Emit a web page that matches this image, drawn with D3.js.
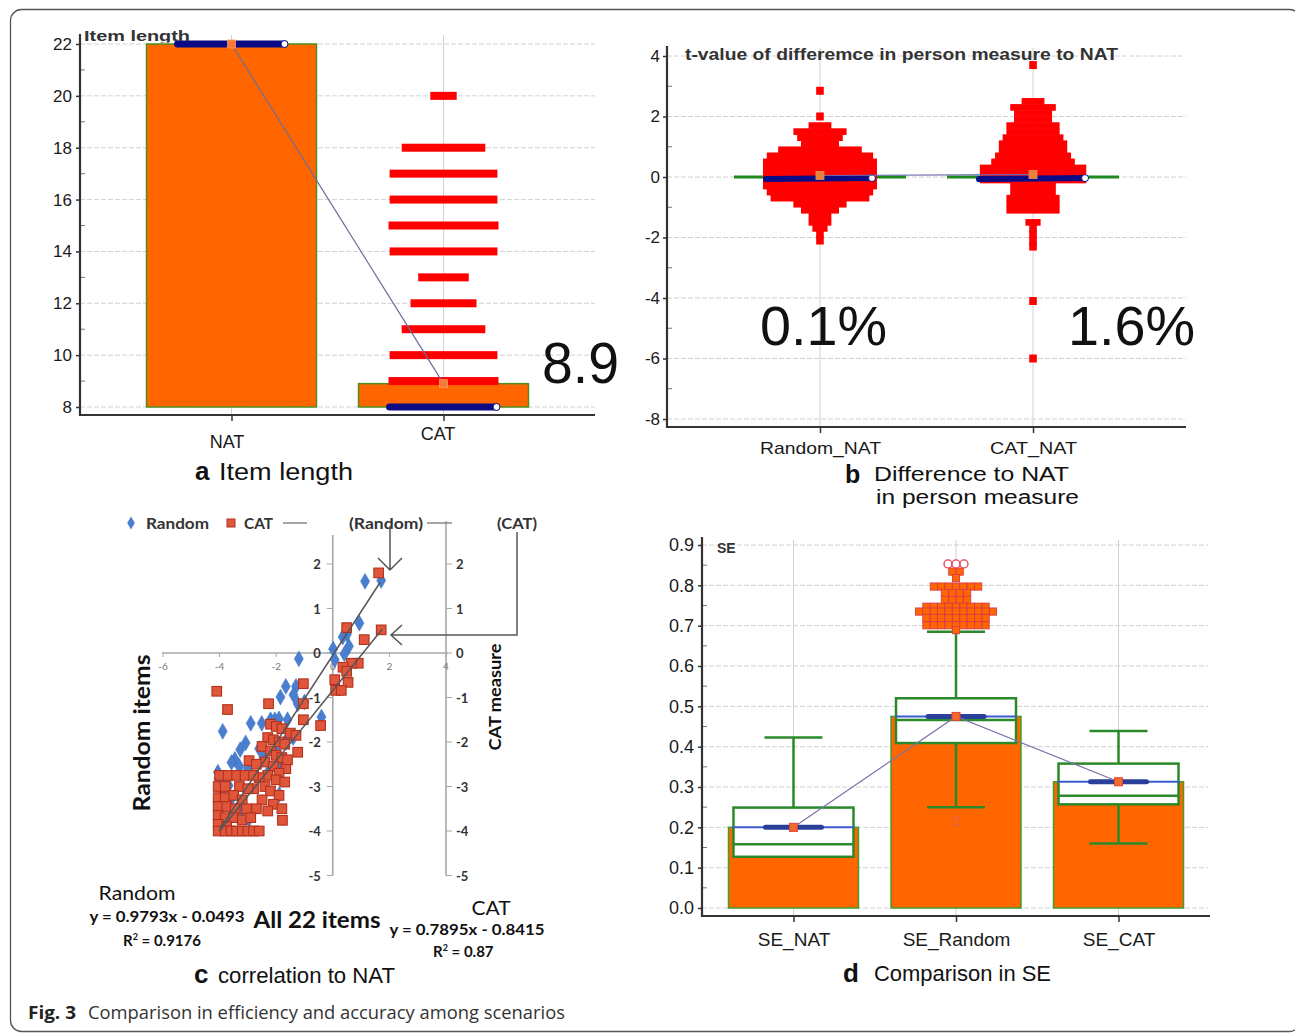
<!DOCTYPE html>
<html><head><meta charset="utf-8">
<script src="https://cdn.jsdelivr.net/npm/d3@7"></script>
<style>body{margin:0;background:#fff}svg{display:block}</style>
</head><body>
<svg id="c" width="1295" height="1033"></svg>
<script>
// ================= DATA =================
// (a) item length
const itemCats = ["NAT", "CAT"];
const itemMeans = [22, 8.9];
const itemMedians = [22, 8];
const itemBase = 8;
const itemTicks = [8, 10, 12, 14, 16, 18, 20, 22];
// CAT item-length distribution: [items, relative frequency]
const catLengthDist = [[20,12],[18,38],[17,49],[16,49],[15,50],[14,49],[13,23],[12,30],[11,38],[10,49],[9,50]];
const itemMeanLabel = "8.9";

// (b) t-value differences
const diffCats = ["Random_NAT", "CAT_NAT"];
const diffMeans = [0.05, 0.08];
const diffMedians = [-0.07, -0.07];
const diffTicks = [-8, -6, -4, -2, 0, 2, 4];
const diffPercent = ["0.1%", "1.6%"];
// rows of the dot plot: [t-value, number of persons in row]
const randomDiffDist = [[2.85,1],[2.0,1],[1.7,3],[1.5,7],[1.3,6],[1.1,5],[0.9,11],[0.7,14],[0.5,15],[0.3,15],[0.1,15],[-0.1,15],[-0.3,15],[-0.5,14],[-0.7,13],[-0.9,7],[-1.1,5],[-1.3,3],[-1.5,3],[-1.7,2],[-1.9,1],[-2.1,1]];
const catDiffDist = [[3.7,1],[2.5,3],[2.3,6],[2.1,5],[1.9,5],[1.7,7],[1.5,7],[1.3,8],[1.1,9],[0.9,9],[0.7,10],[0.5,11],[0.3,14],[0.1,14],[-0.1,14],[-0.3,6],[-0.5,6],[-0.7,7],[-0.9,7],[-1.1,7],[-1.5,2],[-1.7,1],[-1.9,1],[-2.1,1],[-2.3,1],[-4.1,1],[-6.0,1]];

// (c) correlation to NAT: [NAT measure, Random/CAT measure]
const randomPoints = [[1.14,1.61],[1.71,1.63],[0.94,0.67],[0.5,0.42],[0.35,0.36],[0.57,0.15],[0.41,-0.02],[0.01,0.09],[0.07,-0.15],[-1.2,-0.13],[-1.66,-0.75],[-1.3,-0.75],[-1.39,-0.94],[-1.85,-0.99],[-1.24,-1.14],[-1.0,-1.1],[-0.4,-1.44],[-2.9,-1.58],[-2.51,-1.58],[-2.2,-1.5],[-2.05,-1.5],[-1.9,-1.48],[-1.6,-1.5],[-3.89,-1.76],[-3.08,-2.02],[-3.27,-2.17],[-2.6,-2.15],[-2.45,-2.35],[-3.46,-2.39],[-3.58,-2.46],[-3.3,-2.55],[-4.06,-2.68],[-4.04,-2.83],[-3.68,-2.98],[-1.89,-3.18],[-2.96,-3.73],[-3.2,-3.54],[-1.66,-1.97],[-1.4,-1.9],[-2.0,-2.2],[-3.0,-2.6],[-3.6,-3.3],[-2.3,-2.7],[-1.9,-2.5],[-3.9,-3.1],[-3.75,-2.85]];
const catPoints = [[1.62,1.80],[1.71,0.52],[1.11,0.30],[0.49,0.57],[0.9,-0.23],[0.66,-0.23],[0.36,-0.32],[0.49,-0.41],[0.07,-0.6],[0.54,-0.66],[0.1,-0.84],[0.3,-0.84],[-1.04,-0.69],[-1.04,-1.14],[-2.27,-1.14],[-4.1,-0.86],[-3.72,-1.27],[-0.43,-1.63],[-1.04,-1.5],[-1.24,-2.23],[-2.96,-2.42],[-1.66,-2.6],[-1.78,-3.76],
 [-2.2,-1.6],[-2.0,-1.65],[-1.8,-1.7],[-1.5,-1.8],[-1.3,-1.85],[-2.3,-1.9],[-2.1,-1.95],[-1.9,-2.0],[-1.7,-2.05],[-2.5,-2.1],[-2.2,-2.2],[-2.0,-2.3],[-1.8,-2.35],[-1.6,-2.4],[-2.4,-2.45],[-2.7,-2.5],[-2.1,-2.55],[-1.9,-2.7],[-2.3,-2.75],[-2.6,-2.8],[-2.0,-2.85],[-1.7,-2.9],[-2.4,-3.0],[-2.8,-3.05],[-2.2,-3.1],[-1.9,-3.2],[-2.5,-3.3],[-2.1,-3.4],[-2.7,-3.5],[-1.8,-3.5],[-2.3,-3.55],
 [-4.0,-2.75],[-3.7,-2.75],[-3.4,-2.75],[-3.1,-2.75],[-2.8,-2.75],[-4.05,-3.0],[-3.8,-3.0],[-3.3,-3.0],[-3.0,-3.05],[-4.05,-3.25],[-3.8,-3.25],[-3.5,-3.2],[-3.2,-3.3],[-4.05,-3.45],[-3.75,-3.45],[-3.45,-3.5],[-3.05,-3.5],[-4.05,-3.65],[-3.8,-3.7],[-3.5,-3.7],[-3.2,-3.75],[-2.9,-3.7],[-4.05,-3.85],[-3.75,-3.9],[-4.05,-4.0],[-3.8,-4.0],[-3.6,-4.0],[-3.4,-4.0],[-3.2,-4.0],[-3.0,-4.0],[-2.8,-4.0],[-2.6,-4.0]];
const randomFit = {slope: 0.9793, intercept: -0.0493, r2: 0.9176, from: -4.0, to: 1.68};
const catFit = {slope: 0.7895, intercept: -0.8415, r2: 0.87, from: -4.0, to: 1.75};
const corrXTicks = [-6, -4, -2, 0, 2, 4];
const corrYTicks = [2, 1, 0, -1, -2, -3, -4, -5];

// (d) SE comparison
const seCats = ["SE_NAT", "SE_Random", "SE_CAT"];
const seMeans = [0.2, 0.475, 0.313];
const seQ1 = [0.127, 0.409, 0.257];
const seMedian = [0.158, 0.466, 0.278];
const seQ3 = [0.249, 0.52, 0.358];
const seLow = [0.127, 0.25, 0.16];
const seHigh = [0.423, 0.685, 0.439];
const seTicks = [0, 0.1, 0.2, 0.3, 0.4, 0.5, 0.6, 0.7, 0.8, 0.9];
// SE_Random outliers: [SE, count in row]
const seRandomOutlierRows = [[0.834,2],[0.818,1],[0.797,7],[0.781,4],[0.764,4],[0.747,9],[0.735,11],[0.719,9],[0.701,9],[0.689,1]];
const seRandomFarOut = [0.853, 0.853, 0.853];
const seRandomLowOut = [0.215];

// ================= DRAW =================
const svg = d3.select("#c");
const SANS = "'Liberation Sans', Arial, sans-serif";
const CAL = "Lato, 'Open Sans', sans-serif";
const OS = "'Open Sans', 'Noto Sans', sans-serif";
const ORANGE = "#ff6600", BARLINE = "#4f8f1f", GRID = "#d2d2d2", NAVY = "#0b0b85", BOXG = "#2a8a2a";
const plain = d => String(d);

function txt(g, s, x, y, o = {}) {
  const t = g.append("text").attr("x", x).attr("y", y).text(s)
    .attr("font-family", o.family || SANS).attr("font-size", o.size || 16)
    .attr("font-weight", o.weight || "normal").attr("fill", o.fill || "#222")
    .attr("text-anchor", o.anchor || "start");
  if (o.w) t.attr("textLength", o.w).attr("lengthAdjust", "spacingAndGlyphs");
  if (o.rotate) t.attr("transform", `rotate(${o.rotate},${x},${y})`);
  return t;
}
function line(g, x1, y1, x2, y2, stroke, w, dash) {
  const l = g.append("line").attr("x1", x1).attr("y1", y1).attr("x2", x2).attr("y2", y2)
    .attr("stroke", stroke).attr("stroke-width", w);
  if (dash) l.attr("stroke-dasharray", dash);
  return l;
}

// outer frame
svg.append("rect").attr("x", 10.5).attr("y", 9.5).attr("width", 1290).attr("height", 1022)
  .attr("rx", 11).attr("fill", "none").attr("stroke", "#555").attr("stroke-width", 1.3);

// ---------- panel a ----------
{
  const g = svg.append("g");
  const x = d3.scalePoint().domain(itemCats).range([80, 595]).padding(0.7146);
  const y = d3.scaleLinear().domain([8, 22]).range([407, 44]);
  g.selectAll(".gh").data(itemTicks).join("line").attr("x1", 80).attr("x2", 595)
    .attr("y1", d => y(d)).attr("y2", d => y(d)).attr("stroke", GRID).attr("stroke-dasharray", "5,2");
  g.selectAll(".gv").data(itemCats).join("line").attr("x1", d => x(d)).attr("x2", d => x(d))
    .attr("y1", 35).attr("y2", 415).attr("stroke", GRID);
  // bars
  g.selectAll(".bar").data(itemCats).join("rect")
    .attr("x", d => x(d) - 85).attr("width", 170)
    .attr("y", (d, i) => y(itemMeans[i])).attr("height", (d, i) => y(itemBase) - y(itemMeans[i]))
    .attr("fill", ORANGE).attr("stroke", BARLINE).attr("stroke-width", 1.5);
  // CAT distribution
  const wS = d3.scaleLinear().domain([0, 50]).range([0, 110]);
  g.selectAll(".dist").data(catLengthDist).join("rect")
    .attr("x", d => x("CAT") - wS(d[1]) / 2).attr("width", d => wS(d[1]))
    .attr("y", d => y(d[0]) - 4).attr("height", 8).attr("fill", "#ff0000");
  // median lines
  itemCats.forEach((c, i) => {
    line(g, x(c) - 54, y(itemMedians[i]), x(c) + 53, y(itemMedians[i]), NAVY, 7).attr("stroke-linecap", "round");
    g.append("circle").attr("cx", x(c) + 53).attr("cy", y(itemMedians[i])).attr("r", 3.5)
      .attr("fill", "#fff").attr("stroke", NAVY).attr("stroke-width", 1);
  });
  // mean connector
  g.append("path").attr("d", d3.line()(itemCats.map((c, i) => [x(c), y(itemMeans[i])])))
    .attr("fill", "none").attr("stroke", "#6c6c9c").attr("stroke-width", 1.2);
  g.selectAll(".mean").data(itemCats).join("rect")
    .attr("x", d => x(d) - 4).attr("y", (d, i) => y(itemMeans[i]) - 4).attr("width", 8).attr("height", 8)
    .attr("fill", "#f47a3a").attr("stroke", "#ff9a5a").attr("stroke-width", 0.8);
  // axes
  const ya = g.append("g").attr("transform", "translate(80,0)")
    .call(d3.axisLeft(y).tickValues(itemTicks).tickFormat(plain).tickSize(4).tickPadding(4));
  ya.select(".domain").remove();
  ya.selectAll("text").attr("font-family", SANS).attr("font-size", 17).attr("fill", "#1a1a1a");
  ya.selectAll("line").attr("stroke", "#333").attr("stroke-width", 1.5);
  g.selectAll(".minor").data(d3.range(9, 22, 2)).join("line").attr("x1", 80).attr("x2", 85)
    .attr("y1", d => y(d)).attr("y2", d => y(d)).attr("stroke", "#777");
  line(g, 80, 34, 80, 416, "#333", 2.2);
  line(g, 79, 415, 595, 415, "#333", 2.2);
  const xa = g.append("g").attr("transform", "translate(0,415)")
    .call(d3.axisBottom(x).tickSize(6).tickPadding(14));
  xa.select(".domain").remove();
  xa.selectAll("line").attr("stroke", "#333").attr("stroke-width", 1.5);
  xa.selectAll("text").attr("font-family", SANS).attr("font-size", 18).attr("fill", "#1a1a1a")
    .attr("dy", d => d === "NAT" ? "0.72em" : "0.3em").attr("dx", d => d === "NAT" ? -5 : -6);
  // labels
  g.append("clipPath").attr("id", "clipA").append("rect").attr("x", 80).attr("y", 20).attr("width", 200).attr("height", 22.5);
  txt(g, "Item length", 84, 41, {size: 15, weight: "bold", fill: "#333", w: 106}).attr("clip-path", "url(#clipA)");
  txt(g, itemMeanLabel, 542, 383, {size: 57, fill: "#111", w: 77});
  txt(g, "a", 195, 480, {size: 26, weight: "bold", fill: "#111"});
  txt(g, "Item length", 219, 480, {size: 23, fill: "#111", w: 134});
}

// ---------- panel b ----------
{
  const g = svg.append("g");
  const x = d3.scalePoint().domain(diffCats).range([667, 1186]).padding(0.718);
  const y = d3.scaleLinear().domain([-8, 4]).range([419, 56]);
  g.selectAll(".gh").data(diffTicks).join("line").attr("x1", 667).attr("x2", 1186)
    .attr("y1", d => y(d)).attr("y2", d => y(d)).attr("stroke", GRID).attr("stroke-dasharray", "5,2");
  g.selectAll(".gv").data(diffCats).join("line").attr("x1", d => x(d)).attr("x2", d => x(d))
    .attr("y1", 48).attr("y2", 427).attr("stroke", GRID);
  // zero (green) lines
  diffCats.forEach(c => line(g, x(c) - 86, y(0), x(c) + 86, y(0), "#1d8a1d", 3));
  // dot plots
  const cell = 7.6, rowH = y(0) - y(0.22);
  [randomDiffDist, catDiffDist].forEach((dist, i) => {
    const cx = x(diffCats[i]);
    g.selectAll(null).data(dist).join("rect")
      .attr("x", d => cx - d[1] * cell / 2).attr("width", d => d[1] * cell)
      .attr("y", d => y(d[0]) - (d[1] === 1 ? 4 : rowH / 2)).attr("height", d => d[1] === 1 ? 8 : rowH)
      .attr("fill", "#ff0000");
  });
  // medians
  diffCats.forEach((c, i) => {
    line(g, x(c) - 54, y(diffMedians[i]), x(c) + 52, y(diffMedians[i]) - 1, NAVY, 6).attr("stroke-linecap", "round");
    g.append("circle").attr("cx", x(c) + 52).attr("cy", y(diffMedians[i]) - 1).attr("r", 3.5)
      .attr("fill", "#fff").attr("stroke", NAVY).attr("stroke-width", 1);
  });
  g.append("path").attr("d", d3.line()(diffCats.map((c, i) => [x(c), y(diffMeans[i])])))
    .attr("fill", "none").attr("stroke", "#6c6cb0").attr("stroke-width", 1.2);
  g.selectAll(".mean").data(diffCats).join("rect")
    .attr("x", d => x(d) - 4).attr("y", (d, i) => y(diffMeans[i]) - 4).attr("width", 8).attr("height", 8)
    .attr("fill", "#e8823a").attr("stroke", "#f09050").attr("stroke-width", 0.8);
  // axes
  const ya = g.append("g").attr("transform", "translate(667,0)")
    .call(d3.axisLeft(y).tickValues(diffTicks).tickFormat(plain).tickSize(4).tickPadding(3));
  ya.select(".domain").remove();
  ya.selectAll("text").attr("font-family", SANS).attr("font-size", 17).attr("fill", "#1a1a1a");
  ya.selectAll("line").attr("stroke", "#333").attr("stroke-width", 1.5);
  g.selectAll(".minor").data(d3.range(-7, 4, 2)).join("line").attr("x1", 667).attr("x2", 672)
    .attr("y1", d => y(d)).attr("y2", d => y(d)).attr("stroke", "#777");
  line(g, 667, 46, 667, 428, "#333", 2.2);
  line(g, 666, 427, 1186, 427, "#333", 2.2);
  const xa = g.append("g").attr("transform", "translate(0,427)")
    .call(d3.axisBottom(x).tickSize(6).tickPadding(9));
  xa.select(".domain").remove();
  xa.selectAll("line").attr("stroke", "#333").attr("stroke-width", 1.5);
  xa.selectAll("text").attr("font-family", SANS).attr("font-size", 17).attr("fill", "#1a1a1a")
    .attr("textLength", d => d === "Random_NAT" ? 121 : 87).attr("lengthAdjust", "spacingAndGlyphs");
  txt(g, "t-value of differemce in person measure to NAT", 685, 60, {size: 16, weight: "bold", fill: "#333", w: 433});
  txt(g, diffPercent[0], 760, 345, {size: 56, fill: "#111", w: 127});
  txt(g, diffPercent[1], 1068, 345, {size: 56, fill: "#111", w: 127});
  txt(g, "b", 845, 483, {size: 25, weight: "bold", fill: "#111"});
  txt(g, "Difference to NAT", 874, 481, {size: 20, fill: "#111", w: 195});
  txt(g, "in person measure", 876, 504, {size: 20, fill: "#111", w: 203});
}

// ---------- panel c ----------
{
  const g = svg.append("g");
  const x = d3.scaleLinear().domain([-6, 4]).range([163, 446]);
  const y = d3.scaleLinear().domain([-5, 0]).range([875.5, 653]);
  const AX = "#a8a8a8";
  // axes
  line(g, 162, y(0), 448, y(0), AX, 1.6);
  line(g, x(0), 535, x(0), y(-5), AX, 1.6);
  line(g, 446, 521, 446, y(-5), AX, 1.6);
  g.selectAll(".xt").data(corrXTicks).join("line").attr("x1", d => x(d)).attr("x2", d => x(d))
    .attr("y1", y(0)).attr("y2", y(0) + 4).attr("stroke", AX);
  g.selectAll(".xl").data(corrXTicks).join("text").attr("x", d => x(d)).attr("y", y(0) + 17)
    .attr("text-anchor", "middle").attr("font-family", CAL).attr("font-size", 10).attr("fill", "#777")
    .text(plain);
  g.selectAll(".ylt").data(corrYTicks).join("line").attr("x1", x(0) - 6).attr("x2", x(0))
    .attr("y1", d => y(d)).attr("y2", d => y(d)).attr("stroke", AX);
  g.selectAll(".yrt").data(corrYTicks).join("line").attr("x1", 446).attr("x2", 452)
    .attr("y1", d => y(d)).attr("y2", d => y(d)).attr("stroke", AX);
  g.selectAll(".yll").data(corrYTicks).join("text").attr("x", x(0) - 12).attr("y", d => y(d) + 5)
    .attr("text-anchor", "end").attr("font-family", CAL).attr("font-weight", "bold").attr("font-size", 13)
    .attr("fill", "#333").text(plain);
  g.selectAll(".yrl").data(corrYTicks).join("text").attr("x", 456).attr("y", d => y(d) + 5)
    .attr("text-anchor", "start").attr("font-family", CAL).attr("font-weight", "bold").attr("font-size", 13)
    .attr("fill", "#333").text(plain);
  // points
  const diamond = d3.symbol().type(d3.symbolDiamond).size(72);
  g.selectAll(".rp").data(randomPoints).join("path").attr("d", diamond)
    .attr("transform", d => `translate(${x(d[0])},${y(d[1])})`).attr("fill", "#4a7fcf").attr("stroke", "#3a6fc0").attr("stroke-width", 0.5);
  g.selectAll(".cp").data(catPoints).join("rect")
    .attr("x", d => x(d[0]) - 4.8).attr("y", d => y(d[1]) - 4.8).attr("width", 9.6).attr("height", 9.6)
    .attr("fill", "#e0563b").attr("stroke", "#b3301c").attr("stroke-width", 1.1);
  // fits
  [randomFit, catFit].forEach(f => {
    line(g, x(f.from), y(f.slope * f.from + f.intercept), x(f.to), y(f.slope * f.to + f.intercept), "#555", 1.5);
  });
  // legend
  g.append("path").attr("d", d3.symbol().type(d3.symbolDiamond).size(50)).attr("transform", "translate(131,523)").attr("fill", "#4a7fcf");
  txt(g, "Random", 146, 529, {family: CAL, size: 16, weight: "bold", fill: "#333", w: 63});
  g.append("rect").attr("x", 227).attr("y", 519).attr("width", 8).attr("height", 8).attr("fill", "#e0563b").attr("stroke", "#b3301c");
  txt(g, "CAT", 244, 529, {family: CAL, size: 16, weight: "bold", fill: "#333", w: 29});
  line(g, 283, 523, 307, 523, "#888", 1.5);
  txt(g, "(Random)", 349, 529, {family: CAL, size: 16, weight: "bold", fill: "#333", w: 74});
  line(g, 427, 523, 452, 523, "#888", 1.5);
  txt(g, "(CAT)", 497, 529, {family: CAL, size: 16, weight: "bold", fill: "#333", w: 40});
  // arrows
  g.append("path").attr("d", "M390,526V570M378,558L390,570L402,558").attr("fill", "none").attr("stroke", "#555").attr("stroke-width", 1.5);
  g.append("path").attr("d", "M517,532V635H391M402,625L391,635L402,645").attr("fill", "none").attr("stroke", "#555").attr("stroke-width", 1.5);
  // axis titles
  txt(g, "Random items", 150, 733, {family: CAL, size: 23, weight: "bold", fill: "#111", anchor: "middle", rotate: -90, w: 157});
  txt(g, "CAT measure", 501, 697, {family: CAL, size: 17, weight: "bold", fill: "#111", anchor: "middle", rotate: -90, w: 107});
  // fit texts
  const fmt = f => `y = ${f.slope}x - ${Math.abs(f.intercept)}`;
  txt(g, "Random", 137, 900, {family: CAL, size: 19, fill: "#111", anchor: "middle", w: 77});
  txt(g, fmt(randomFit), 167, 922, {family: CAL, size: 15, weight: "bold", fill: "#111", anchor: "middle", w: 155});
  const r1 = txt(g, "R", 123, 946, {family: CAL, size: 15, weight: "bold", fill: "#111"});
  r1.append("tspan").attr("dy", -6).attr("font-size", 9).text("2");
  r1.append("tspan").attr("dy", 6).text(` = ${randomFit.r2}`);
  txt(g, "All 22 items", 317, 928, {family: CAL, size: 23, weight: "bold", fill: "#111", anchor: "middle", w: 127});
  txt(g, "CAT", 491, 915, {family: CAL, size: 19, fill: "#111", anchor: "middle", w: 39});
  txt(g, fmt(catFit), 467, 935, {family: CAL, size: 15, weight: "bold", fill: "#111", anchor: "middle", w: 155});
  const r2 = txt(g, "R", 433, 957, {family: CAL, size: 15, weight: "bold", fill: "#111"});
  r2.append("tspan").attr("dy", -6).attr("font-size", 9).text("2");
  r2.append("tspan").attr("dy", 6).text(` = ${catFit.r2}`);
  txt(g, "c", 194, 983, {size: 26, weight: "bold", fill: "#111"});
  txt(g, "correlation to NAT", 218, 983, {size: 22, fill: "#111", w: 177});
}

// ---------- panel d ----------
{
  const g = svg.append("g");
  const x = d3.scalePoint().domain(seCats).range([702, 1210]).padding(0.563);
  const y = d3.scaleLinear().domain([0, 0.9]).range([908, 545]);
  g.selectAll(".gh").data(seTicks).join("line").attr("x1", 702).attr("x2", 1208)
    .attr("y1", d => y(d)).attr("y2", d => y(d)).attr("stroke", GRID).attr("stroke-dasharray", "5,2");
  g.selectAll(".gv").data(seCats).join("line").attr("x1", d => x(d)).attr("x2", d => x(d))
    .attr("y1", 540).attr("y2", 916).attr("stroke", GRID);
  // bars
  g.selectAll(".bar").data(seCats).join("rect")
    .attr("x", d => x(d) - 65).attr("width", 130)
    .attr("y", (d, i) => y(seMeans[i])).attr("height", (d, i) => y(0) - y(seMeans[i]))
    .attr("fill", ORANGE).attr("stroke", "#3fa02a").attr("stroke-width", 1.5);
  // whiskers
  seCats.forEach((c, i) => {
    const cx = x(c);
    line(g, cx, y(seQ3[i]), cx, y(seHigh[i]), BOXG, 2.5);
    line(g, cx - 29, y(seHigh[i]), cx + 29, y(seHigh[i]), BOXG, 2.5);
    if (seLow[i] < seQ1[i]) {
      line(g, cx, y(seQ1[i]), cx, y(seLow[i]), BOXG, 2.5);
      line(g, cx - 29, y(seLow[i]), cx + 29, y(seLow[i]), BOXG, 2.5);
    }
  });
  // boxes
  g.selectAll(".box").data(seCats).join("rect")
    .attr("x", d => x(d) - 60).attr("width", 120)
    .attr("y", (d, i) => y(seQ3[i])).attr("height", (d, i) => y(seQ1[i]) - y(seQ3[i]))
    .attr("fill", "#fff").attr("stroke", BOXG).attr("stroke-width", 2.5);
  seCats.forEach((c, i) => {
    const cx = x(c);
    line(g, cx - 60, y(seMedian[i]), cx + 60, y(seMedian[i]), BOXG, 2.5);
    line(g, cx - 61, y(seMeans[i]), cx + 61, y(seMeans[i]), "#3b5bd0", 2);
    line(g, cx - 28, y(seMeans[i]), cx + 28, y(seMeans[i]), "#2a3f9a", 5).attr("stroke-linecap", "round");
  });
  // mean connector
  g.append("path").attr("d", d3.line()(seCats.map((c, i) => [x(c), y(seMeans[i])])))
    .attr("fill", "none").attr("stroke", "#7a72a8").attr("stroke-width", 1.2);
  g.selectAll(".mean").data(seCats).join("rect")
    .attr("x", d => x(d) - 4).attr("y", (d, i) => y(seMeans[i]) - 4).attr("width", 8).attr("height", 8)
    .attr("fill", "#f06a2a").attr("stroke", "#e0403a").attr("stroke-width", 1);
  // outliers SE_Random
  const cxR = x("SE_Random"), cs = 7.4;
  const outs = [];
  seRandomOutlierRows.forEach(([v, n]) => { for (let k = 0; k < n; k++) outs.push([cxR + (k - (n - 1) / 2) * cs, v]); });
  g.selectAll(".out").data(outs).join("rect")
    .attr("x", d => d[0] - 3.6).attr("y", d => y(d[1]) - 3.6).attr("width", 7.2).attr("height", 7.2)
    .attr("fill", ORANGE).attr("stroke", "#d83a4a").attr("stroke-width", 0.9);
  g.selectAll(".far").data(seRandomFarOut).join("circle")
    .attr("cx", (d, i) => cxR + (i - 1) * 8).attr("cy", d => y(d)).attr("r", 4)
    .attr("fill", "#fff").attr("stroke", "#e04050").attr("stroke-width", 1.3);
  g.selectAll(".low").data(seRandomLowOut).join("rect")
    .attr("x", cxR - 3.5).attr("y", d => y(d) - 4).attr("width", 7).attr("height", 8)
    .attr("fill", "none").attr("stroke", "#e0604a").attr("stroke-width", 1);
  // axes
  const ya = g.append("g").attr("transform", "translate(702,0)")
    .call(d3.axisLeft(y).tickValues(seTicks).tickFormat(d3.format(".1f")).tickSize(4).tickPadding(4));
  ya.select(".domain").remove();
  ya.selectAll("text").attr("font-family", SANS).attr("font-size", 18).attr("fill", "#1a1a1a");
  ya.selectAll("line").attr("stroke", "#333").attr("stroke-width", 1.5);
  g.selectAll(".minor").data(d3.range(0.05, 0.9, 0.1)).join("line").attr("x1", 702).attr("x2", 707)
    .attr("y1", d => y(d)).attr("y2", d => y(d)).attr("stroke", "#777");
  line(g, 702, 537, 702, 917, "#333", 2.2);
  line(g, 701, 916, 1210, 916, "#333", 2.2);
  const xa = g.append("g").attr("transform", "translate(0,916)")
    .call(d3.axisBottom(x).tickSize(6).tickPadding(11));
  xa.select(".domain").remove();
  xa.selectAll("line").attr("stroke", "#333").attr("stroke-width", 1.5);
  xa.selectAll("text").attr("font-family", SANS).attr("font-size", 19).attr("fill", "#1a1a1a");
  txt(g, "SE", 717, 553, {size: 14, weight: "bold", fill: "#333"});
  txt(g, "d", 843, 982, {size: 26, weight: "bold", fill: "#111"});
  txt(g, "Comparison in SE", 874, 981, {size: 22, fill: "#111", w: 177});
}

// ---------- figure caption ----------
txt(svg, "Fig. 3", 28, 1019, {family: OS, size: 18, weight: "bold", fill: "#222", w: 48});
txt(svg, "Comparison in efficiency and accuracy among scenarios", 88, 1019, {family: OS, size: 18, fill: "#333", w: 477});
</script>
</body></html>
